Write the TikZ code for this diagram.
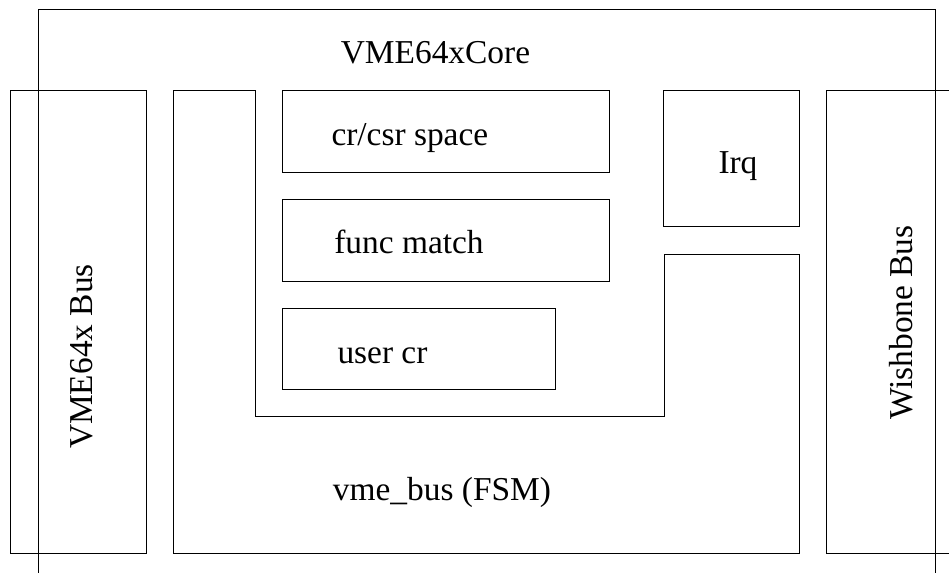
\documentclass[tikz,border=0pt]{standalone}
\usepackage{fontspec}
\setmainfont{Liberation Serif}
\usepackage{tikz}

\begin{document}
\begin{tikzpicture}[x=0.5pt, y=-0.5pt, line width=0.5pt,
    lbl/.style={inner sep=0pt, font=\fontsize{16.7}{20}\selectfont}]
    \useasboundingbox (0,0) rectangle (949,573);
    \clip (0,0) rectangle (949,573);

    % core and the two buses
    \draw (38,9.3) rectangle (935.3,600);
    \draw (10.7,90.3) rectangle (146.7,553);
    \draw (826.7,90.3) rectangle (970,553);

    % vme_bus wraps round the config blocks
    \draw (173.7,90.3) -- (255.7,90.3) -- (255.7,416.7) -- (664,416.7) -- (664,254)
      -- (799.3,254) -- (799.3,553) -- (173.7,553) -- cycle;
    \draw (663.3,90.3) rectangle (799.3,226.7);

    \draw (282.5,90.5) rectangle (609.3,172.3);
    \draw (282.5,199) rectangle (609.3,281);
    \draw (282.5,308.7) rectangle (555,389.7);

    \node[lbl, anchor=base] (core) at (435.5,63) {VME64xCore};
    \node[lbl, anchor=base, rotate=90] (vmebus) at (92,356.5) {VME64x Bus};
    \node[lbl, anchor=base, rotate=90] (wb) at (912,322.5) {Wishbone Bus};
    \node[lbl, anchor=base west] (crcsr) at (331,145) {cr/csr space};
    \node[lbl, anchor=base] (func) at (409,253) {func match};
    \node[lbl, anchor=base west] (usercr) at (337,363) {user cr};
    \node[lbl, anchor=base west] (irq) at (718,173) {Irq};
    \node[lbl, anchor=base] (fsm) at (442,500) {vme\_bus (FSM)};
\end{tikzpicture}
\end{document}
